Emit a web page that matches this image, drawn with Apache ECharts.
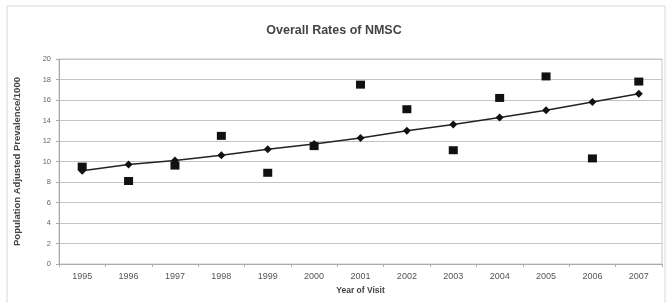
<!DOCTYPE html>
<html>
<head>
<meta charset="utf-8">
<script src="https://cdn.jsdelivr.net/npm/echarts@6/dist/echarts.min.js"></script>
<style>
  html, body { margin: 0; padding: 0; background: #fff; }
  #chart { width: 668px; height: 303px; }
</style>
</head>
<body>
<div id="chart"></div>
<script>
// years on the x axis
const years = ['1995', '1996', '1997', '1998', '1999', '2000', '2001', '2002', '2003', '2004', '2005', '2006', '2007']
// observed rates (square markers)
const observed = [9.5, 8.1, 9.6, 12.5, 8.9, 11.5, 17.5, 15.1, 11.1, 16.2, 18.3, 10.3, 17.8]
// trend line (diamond markers)
const trend = [9.1, 9.7, 10.1, 10.6, 11.2, 11.7, 12.3, 13.0, 13.6, 14.3, 15.0, 15.8, 16.6]

const myChart = echarts.init(document.getElementById('chart'))
const font = 'Liberation Sans'
const option = {
  animation: false,
  backgroundColor: '#fff',
  title: {
    text: 'Overall Rates of NMSC',
    left: 'center',
    top: 19,
    textStyle: { fontFamily: font, fontSize: 12.5, fontWeight: 'bold', color: '#444' }
  },
  graphic: [{
    type: 'rect',
    shape: { x: 7, y: 6, width: 658, height: 300 },
    style: { fill: 'none', stroke: '#d8d8d8', lineWidth: 1 },
    silent: true
  }],
  grid: { left: 59, right: 6, top: 59, bottom: 39, show: true, borderColor: '#c8c8c8', borderWidth: 1 },
  xAxis: {
    type: 'category',
    data: years,
    boundaryGap: true,
    name: 'Year of Visit',
    nameLocation: 'middle',
    nameGap: 22,
    nameTextStyle: { fontFamily: font, fontSize: 8.5, fontWeight: 'bold', color: '#444' },
    axisLine: { lineStyle: { color: '#aaa' } },
    axisTick: { show: true, length: 3, lineStyle: { color: '#aaa' } },
    axisLabel: { fontFamily: font, fontSize: 9, color: '#555', margin: 8 }
  },
  yAxis: {
    type: 'value',
    min: 0,
    max: 20,
    interval: 2,
    name: 'Population Adjusted Prevalence/1000',
    nameLocation: 'middle',
    nameGap: 37,
    nameTextStyle: { fontFamily: font, fontSize: 9.5, fontWeight: 'bold', color: '#444' },
    axisLine: { show: true, lineStyle: { color: '#aaa' } },
    axisTick: { show: true, length: 3, lineStyle: { color: '#aaa' } },
    axisLabel: { fontFamily: font, fontSize: 7.5, color: '#666', margin: 8 },
    splitLine: { lineStyle: { color: '#c4c4c4', width: 1.2 } }
  },
  series: [
    {
      name: 'Observed',
      type: 'scatter',
      data: observed,
      symbol: 'rect',
      symbolSize: [9, 8],
      itemStyle: { color: '#111', opacity: 1 },
      z: 3
    },
    {
      name: 'Trend',
      type: 'line',
      data: trend,
      symbol: 'diamond',
      symbolSize: 8,
      showSymbol: true,
      lineStyle: { color: '#222', width: 1.5 },
      itemStyle: { color: '#111' },
      z: 4
    }
  ]
}
myChart.setOption(option)
</script>
</body>
</html>
